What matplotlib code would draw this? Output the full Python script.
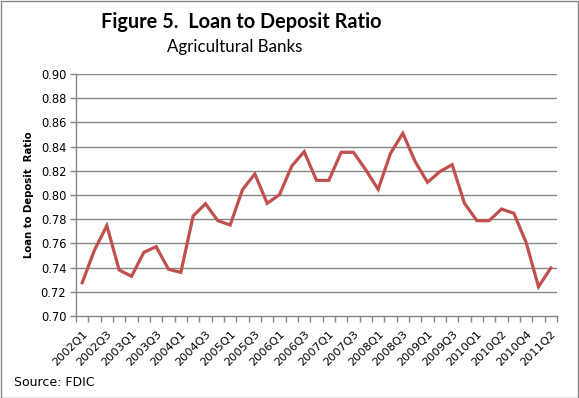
import matplotlib
matplotlib.use('Agg')
from matplotlib import pyplot as plt
from matplotlib.patches import Rectangle

# quarters as shown on the chart (2010Q1 appears twice in the source)
quarters = ['2002Q1', '2002Q2', '2002Q3', '2002Q4',
            '2003Q1', '2003Q2', '2003Q3', '2003Q4',
            '2004Q1', '2004Q2', '2004Q3', '2004Q4',
            '2005Q1', '2005Q2', '2005Q3', '2005Q4',
            '2006Q1', '2006Q2', '2006Q3', '2006Q4',
            '2007Q1', '2007Q2', '2007Q3', '2007Q4',
            '2008Q1', '2008Q2', '2008Q3', '2008Q4',
            '2009Q1', '2009Q2', '2009Q3', '2009Q4',
            '2010Q1', '2010Q1', '2010Q2', '2010Q3',
            '2010Q4', '2011Q1', '2011Q2']
ratio = [0.7275, 0.7545, 0.7747, 0.7380, 0.7328, 0.7526, 0.7573, 0.7386,
         0.7361, 0.7827, 0.7928, 0.7788, 0.7752, 0.8044, 0.8174, 0.7931,
         0.8003, 0.8240, 0.8358, 0.8121, 0.8121, 0.8353, 0.8353, 0.8207,
         0.8047, 0.8344, 0.8510, 0.8276, 0.8105, 0.8193, 0.8251, 0.7931,
         0.7788, 0.7788, 0.7884, 0.7849, 0.7606, 0.7242, 0.7397]
yticks = [0.70, 0.72, 0.74, 0.76, 0.78, 0.80, 0.82, 0.84, 0.86, 0.88, 0.90]

W, H = 579, 398
fig = plt.figure(figsize=(W / 100, H / 100), dpi=100)
# plot area in pixels: left 76, right 557, top 74, bottom 316
ax = fig.add_axes([76 / W, 1 - 316 / H, (557 - 76) / W, (316 - 74) / H])

grid_col = '#868686'
n = len(quarters)
x = list(range(n))
ax.plot(x, ratio, color='#C0504D', linewidth=2.3, solid_joinstyle='miter')

ax.set_xlim(-0.5, n - 0.5)
ax.set_ylim(0.70, 0.90)
ax.set_yticks(yticks)
ax.set_yticklabels(['%.2f' % v for v in yticks], fontsize=8.3, family='DejaVu Sans')
for v in yticks[1:]:
    ax.axhline(v, color=grid_col, linewidth=1, zorder=0)

ax.set_xticks(x[::2])
ax.set_xticklabels(quarters[::2], rotation=45, ha='right', rotation_mode='anchor',
                   fontsize=8.2, family='DejaVu Sans')
ax.set_xticks([i - 0.5 for i in range(n + 1)], minor=True)
ax.tick_params(axis='x', which='major', length=0, pad=9)
ax.tick_params(axis='x', which='minor', length=4, color=grid_col, width=1)
ax.tick_params(axis='y', length=4, color=grid_col, width=1, pad=3)

for s in ['top', 'right']:
    ax.spines[s].set_visible(False)
for s in ['left', 'bottom']:
    ax.spines[s].set_color(grid_col)
    ax.spines[s].set_linewidth(1)

ax.set_ylabel('Loan to Deposit  Ratio', fontsize=7.3, fontweight='bold',
              family='DejaVu Sans', labelpad=5)

fig.text(241 / W, 1 - 22 / H, 'Figure 5.  Loan to Deposit Ratio', ha='center',
         va='center', fontsize=14.3, fontweight='bold', family='Lato')
fig.text(235 / W, 1 - 47 / H, 'Agricultural Banks', ha='center', va='center',
         fontsize=12.2, family='Lato')
fig.text(14 / W, 1 - 383 / H, 'Source: FDIC', ha='left', va='center',
         fontsize=9, family='DejaVu Sans')

fig.patches.append(Rectangle((0.5 / W, 0.5 / H), 1 - 1.5 / W, 1 - 1.5 / H,
                             transform=fig.transFigure, fill=False,
                             edgecolor='#868686', linewidth=1))

fig.savefig('out.png', dpi=100)
